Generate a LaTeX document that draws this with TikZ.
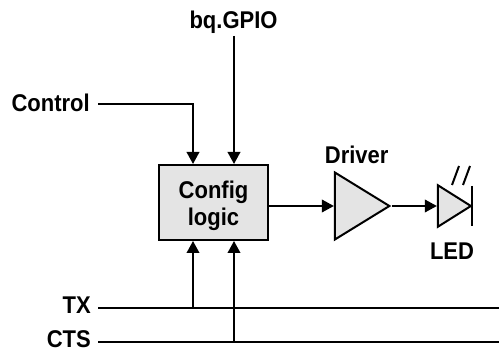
\documentclass[tikz,border=0pt]{standalone}
\usepackage{fontspec}
\setmainfont{Liberation Sans}
\usetikzlibrary{arrows.meta,shapes.geometric}
\definecolor{boxgray}{HTML}{E4E4E4}
\tikzset{
	wire/.style={line width=2pt},
	feed/.style={wire, -{Triangle[length=12pt,width=12.5pt]}},
	lbl/.style={font=\fontsize{22}{24.5}\selectfont\bfseries, inner sep=0pt, align=center, yscale=1.1},
	amp/.style={draw, line width=2pt, fill=boxgray, isosceles triangle, isosceles triangle stretches, inner sep=0pt, anchor=apex}
}

\begin{document}
\begin{tikzpicture}[x=1pt, y=-1pt]
			\useasboundingbox (0, 0) rectangle (499, 352);
			%%%%% BLOCKS %%%%%
			\node[draw, line width=2pt, fill=boxgray, minimum width=109pt, minimum height=75pt, inner sep=0pt] (cfg) at (213.5, 202.5) {};
			\node[lbl] (cfgtext) at (213.5, 205.5) {Config\\logic};
			\node[amp, minimum height=54.5pt, minimum width=67pt] (driver) at (392, 206) {};
			\node[amp, minimum height=33pt, minimum width=41.5pt] (led) at (473.5, 206) {};
			
			%%%%% LABELS %%%%%
			\node[lbl, anchor=base east] (control) at (90, 111.5) {Control};
			\node[lbl, anchor=base] (gpio) at (233.5, 29) {bq.GPIO};
			\node[lbl, anchor=base] (drvtext) at (356.7, 164) {Driver};
			\node[lbl, anchor=base] (ledtext) at (452, 260) {LED};
			\node[lbl, anchor=base east] (tx) at (91, 314) {TX};
			\node[lbl, anchor=base east] (cts) at (91, 347.7) {CTS};
			
			%%%%% FREE ENDS %%%%%
			\coordinate (txl) at (98, 308);
			\coordinate (txr) at (499, 308);
			\coordinate (ctsl) at (98, 342);
			\coordinate (ctsr) at (499, 342);
			\coordinate (ctrl) at (98, 104);
			\coordinate (bend) at (193, 104);
			\coordinate (gpiotop) at (234, 36);
			\coordinate (ledbartop) at (472, 186);
			\coordinate (ledbarbot) at (472, 226);
			
			%%%%% WIRES %%%%%
			\draw[wire] (txl) -- (txr);
			\draw[wire] (ctsl) -- (ctsr);
			\draw[feed] (ctrl) -- (bend) -- (bend |- cfg.north);
			\draw[feed] (gpiotop) -- (gpiotop |- cfg.north);
			\draw[feed] (bend |- txl) -- (bend |- cfg.south);
			\draw[feed] (gpiotop |- ctsl) -- (gpiotop |- cfg.south);
			\draw[feed] (cfg.east |- driver.apex) -- (driver.lower side);
			\draw[feed] (driver.apex) -- (led.lower side);
			
			%%%%% LED %%%%%
			\draw[wire] (ledbartop) -- (ledbarbot);
			\draw[wire] (452, 185) -- (459, 166);
			\draw[wire] (463, 185) -- (470, 166);
\end{tikzpicture}
\end{document}
